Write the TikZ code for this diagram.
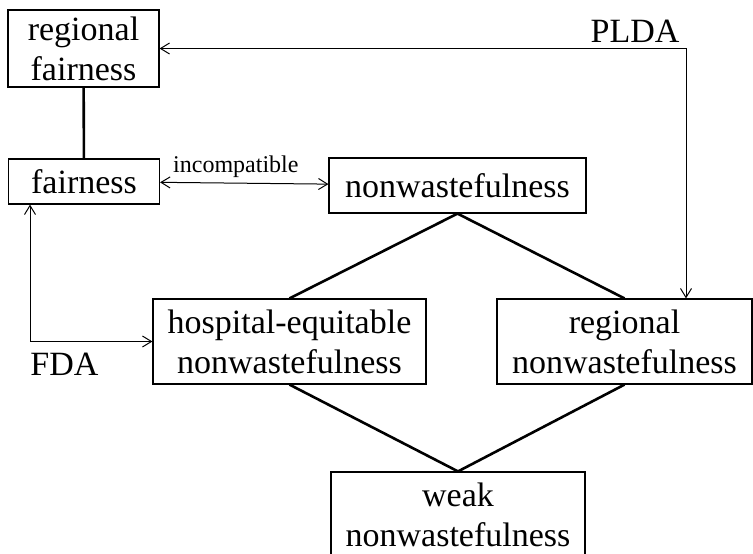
\documentclass[tikz,border=0pt]{standalone}
\usepackage{fontspec}
\setmainfont{Liberation Serif}
\usepackage{tikz}
\usetikzlibrary{arrows.meta, positioning, calc}

\begin{document}
\begin{tikzpicture}[
    x=1pt, y=-1pt,
    >={Straight Barb[length=9pt,width=11pt]},
    prop/.style={rectangle, draw, line width=1.2pt, inner sep=0pt, align=center,
                 font=\fontsize{34}{40}\selectfont},
    link/.style={line width=2.6pt},
    arrow/.style={<->, line width=1pt},
    lbl/.style={inner sep=0pt, font=\fontsize{34}{40}\selectfont}
]
    \useasboundingbox (0,0) rectangle (753,554);

    \node[prop, minimum width=151pt, minimum height=77pt] (rfair) at (83.5,48.5) {regional\\fairness};
    \node[prop, minimum width=151pt, minimum height=45pt] (fair) at (84,181.5) {fairness};
    \node[prop, minimum width=257pt, minimum height=55pt] (nonw) at (457.5,185.5) {nonwastefulness};
    \node[prop, minimum width=273pt, minimum height=85pt] (hosp) at (289.5,341.5) {hospital-equitable\\nonwastefulness};
    \node[prop, minimum width=255pt, minimum height=85pt] (rnw) at (624.5,341.5) {regional\\nonwastefulness};
    \node[prop, minimum width=254pt, minimum height=86pt] (weak) at (458,515) {weak\\nonwastefulness};

    \coordinate (pldax) at (686,0);
    \coordinate (fdax) at (30,0);

    \draw[link] (rfair) -- (fair);
    \draw[link] (nonw.south) -- (hosp.north);
    \draw[link] (nonw.south) -- (rnw.north);
    \draw[link] (hosp.south) -- (weak.north);
    \draw[link] (rnw.south) -- (weak.north);

    \draw[arrow] (fair) -- node[pos=0.45, above, inner sep=0pt, yshift=5pt, font=\fontsize{24}{28}\selectfont] {incompatible} (nonw);
    \draw[arrow] (rfair.east) -| node[pos=0.5, lbl, anchor=south east, xshift=-6pt, yshift=5pt] {PLDA} (pldax |- rnw.north);
    \draw[arrow] (fdax |- fair.south) |- node[pos=0.5, lbl, anchor=north west, yshift=-11pt] {FDA} (hosp.west);
\end{tikzpicture}
\end{document}
